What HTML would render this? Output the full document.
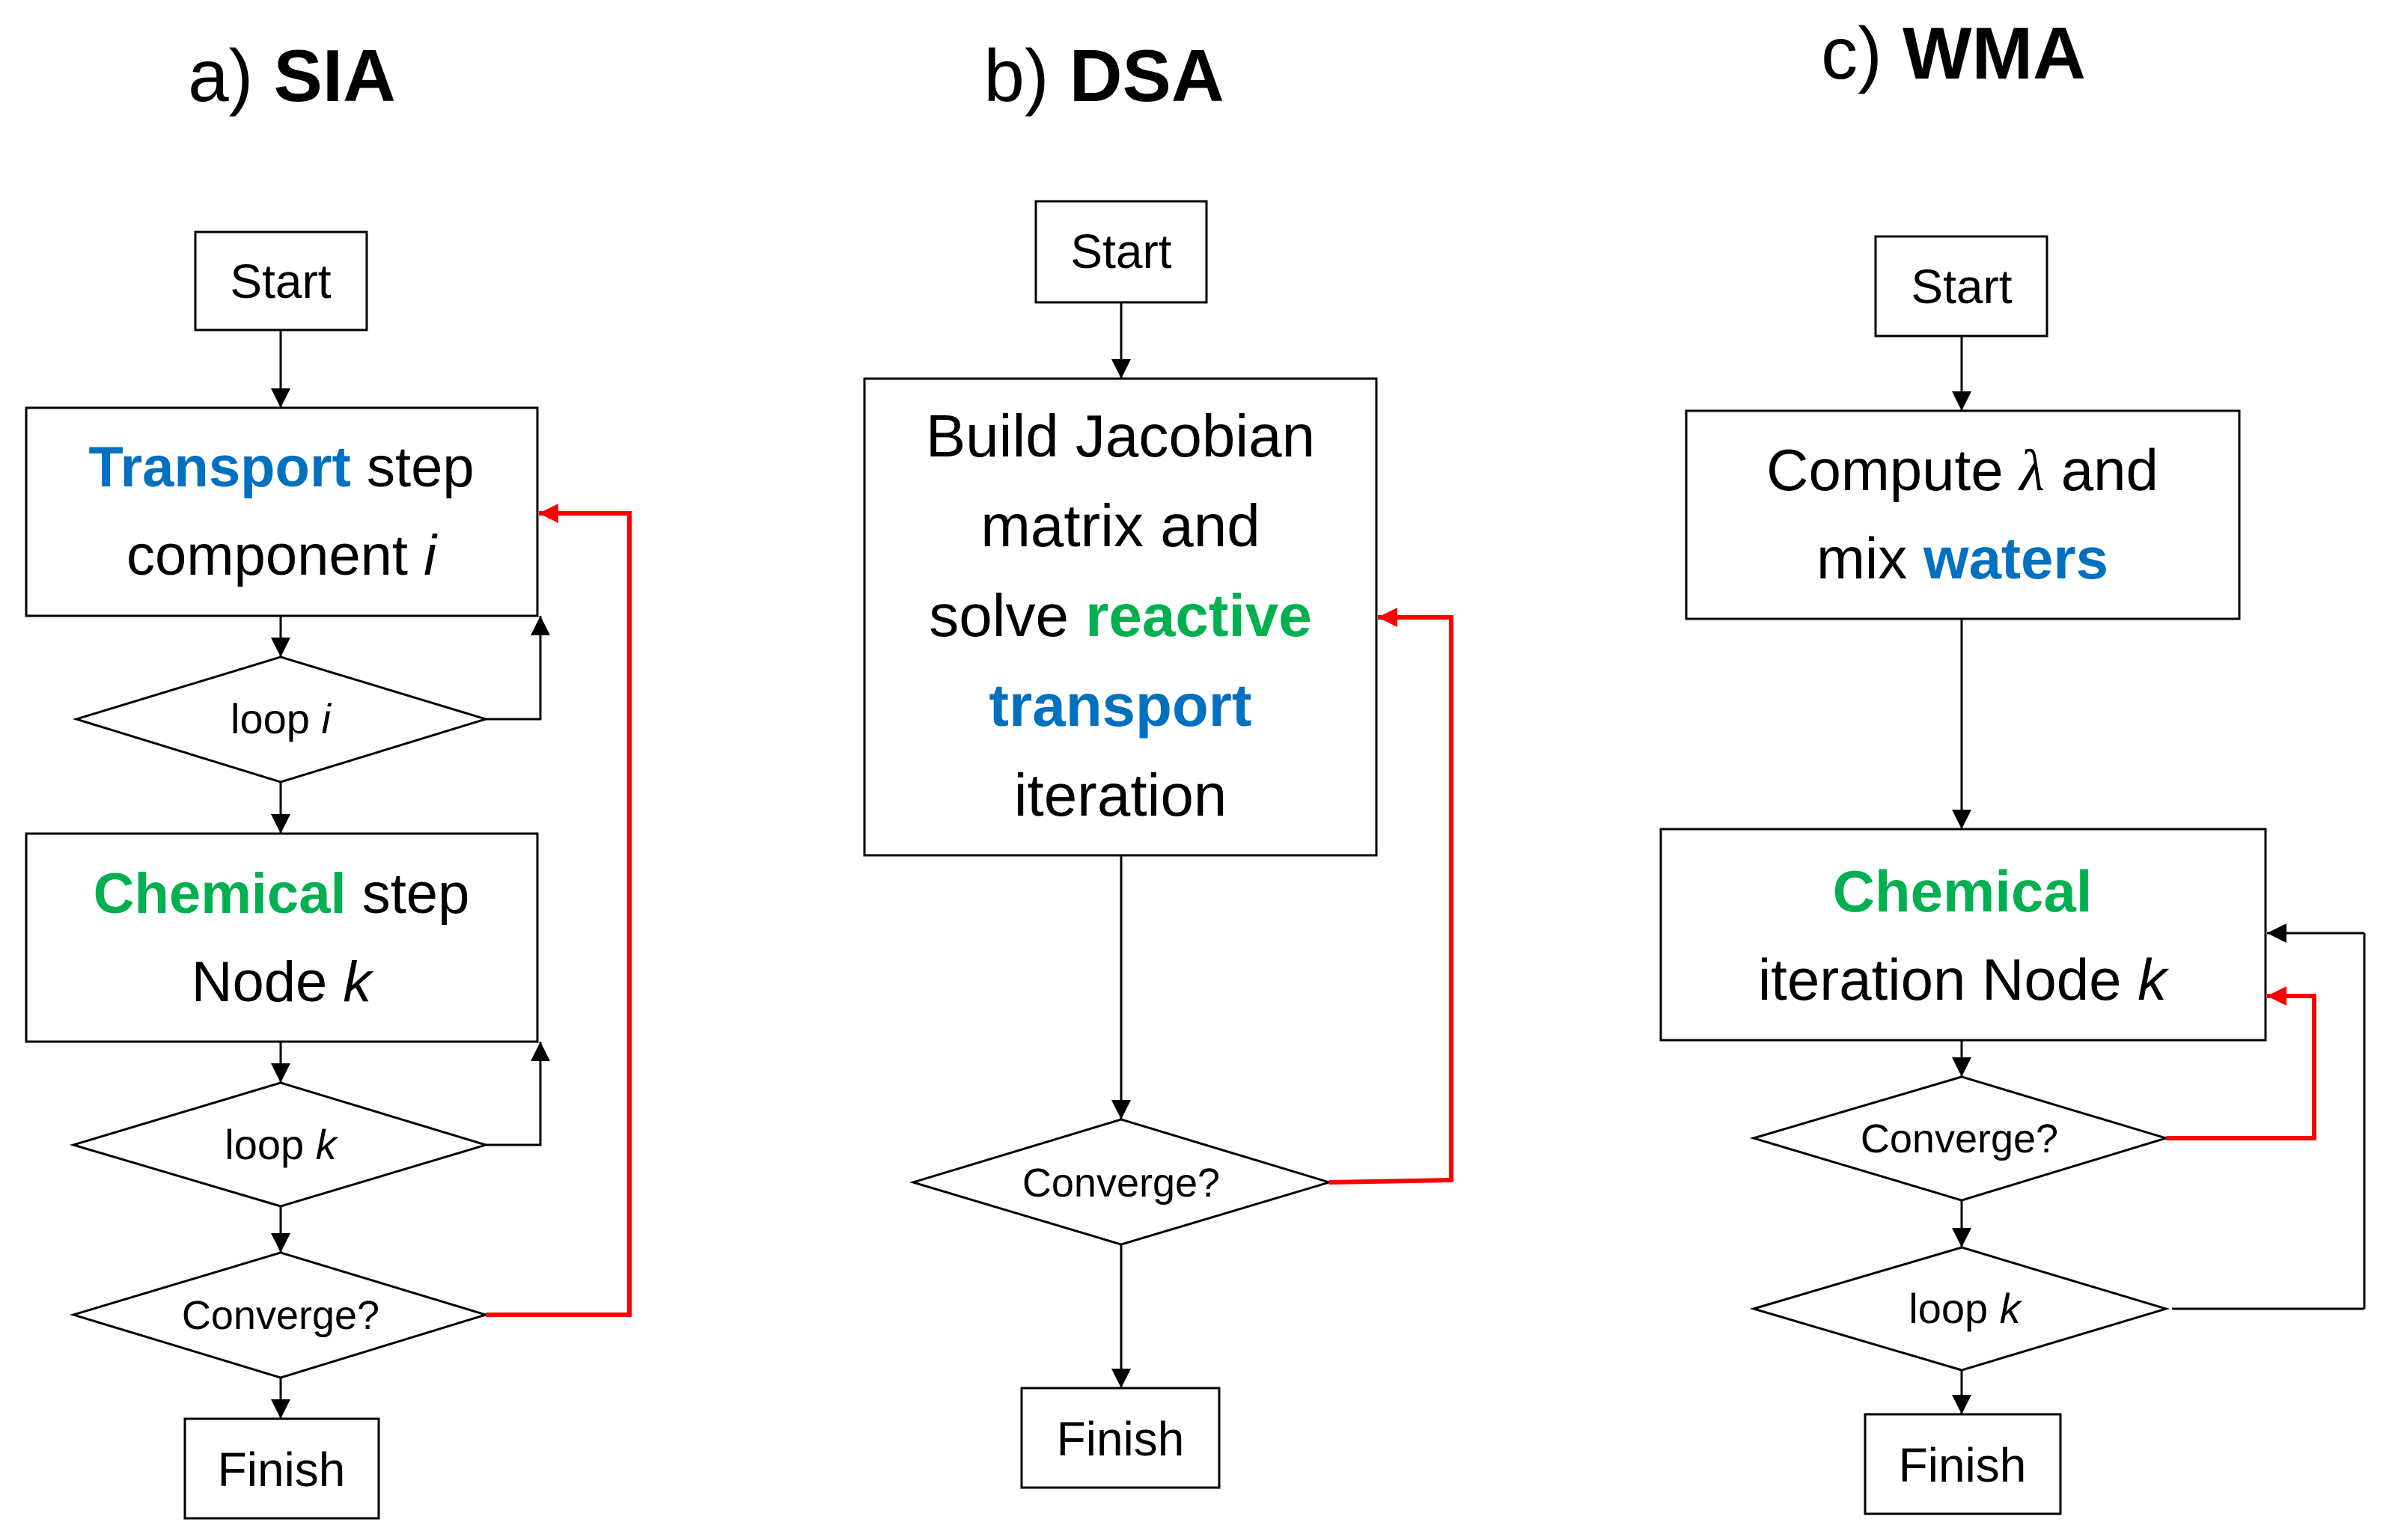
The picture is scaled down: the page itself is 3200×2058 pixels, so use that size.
<!DOCTYPE html>
<html><head><meta charset="utf-8"><style>
html,body{margin:0;padding:0;background:#fff;}
svg{display:block;}
text{font-family:"Liberation Sans",sans-serif;fill:#000;}
.b{font-weight:bold;}
.bl{fill:#0070C0;font-weight:bold;}
.gr{fill:#00B050;font-weight:bold;}
</style></head><body>
<svg width="3200" height="2058" viewBox="0 0 3200 2058" xmlns="http://www.w3.org/2000/svg">
<defs>
<marker id="ak" markerWidth="26" markerHeight="26" refX="10" refY="5" orient="auto" markerUnits="userSpaceOnUse" viewBox="0 0 10 10"><path d="M0,0 L10,5 L0,10 z" fill="#000"/></marker>
<marker id="ar" markerWidth="26" markerHeight="26" refX="10" refY="5" orient="auto" markerUnits="userSpaceOnUse" viewBox="0 0 10 10"><path d="M0,0 L10,5 L0,10 z" fill="#f00"/></marker>
</defs>
<style>
.ka{stroke:#000;stroke-width:3;fill:none;}
.ra{stroke:#f00;stroke-width:6;fill:none;}
.nd{stroke:#000;stroke-width:3;fill:#fff;}
</style>
<!-- titles -->
<text x="390" y="135" font-size="98" text-anchor="middle">a) <tspan class="b">SIA</tspan></text>
<text x="1475" y="135" font-size="98" text-anchor="middle">b) <tspan class="b">DSA</tspan></text>
<text x="2610" y="105" font-size="98" text-anchor="middle">c) <tspan class="b">WMA</tspan></text>

<!-- Panel a -->
<rect class="nd" x="261" y="310" width="229" height="131"/>
<text x="375" y="398" font-size="64" text-anchor="middle">Start</text>
<line class="ka" x1="375" y1="441" x2="375" y2="545" marker-end="url(#ak)"/>
<rect class="nd" x="35" y="545" width="683" height="278"/>
<text x="376" y="650" font-size="76" text-anchor="middle"><tspan class="bl">Transport</tspan> step</text>
<text x="376" y="768" font-size="76" text-anchor="middle">component <tspan font-style="italic">i</tspan></text>
<line class="ka" x1="375" y1="823" x2="375" y2="878" marker-end="url(#ak)"/>
<polygon class="nd" points="102,961 375,878 649,961 375,1045"/>
<text x="375" y="980" font-size="56" text-anchor="middle">loop <tspan font-style="italic">i</tspan></text>
<polyline class="ka" points="649,961 722,961 722,823" marker-end="url(#ak)"/>
<line class="ka" x1="375" y1="1045" x2="375" y2="1114" marker-end="url(#ak)"/>
<rect class="nd" x="35" y="1114" width="683" height="278"/>
<text x="376" y="1220" font-size="76" text-anchor="middle"><tspan class="gr">Chemical</tspan> step</text>
<text x="376" y="1338" font-size="76" text-anchor="middle">Node <tspan font-style="italic">k</tspan></text>
<line class="ka" x1="375" y1="1392" x2="375" y2="1447" marker-end="url(#ak)"/>
<polygon class="nd" points="98,1530 375,1447 649,1530 375,1612"/>
<text x="375" y="1549" font-size="56" text-anchor="middle">loop <tspan font-style="italic">k</tspan></text>
<polyline class="ka" points="649,1530 722,1530 722,1392" marker-end="url(#ak)"/>
<line class="ka" x1="375" y1="1612" x2="375" y2="1674" marker-end="url(#ak)"/>
<polygon class="nd" points="98,1757 375,1674 649,1757 375,1841"/>
<text x="375" y="1776" font-size="54" text-anchor="middle">Converge?</text>
<line class="ka" x1="375" y1="1841" x2="375" y2="1896" marker-end="url(#ak)"/>
<rect class="nd" x="247" y="1896" width="259" height="133"/>
<text x="376" y="1986" font-size="64" text-anchor="middle">Finish</text>
<polyline class="ra" points="649,1757 841,1757 841,686 720,686" marker-end="url(#ar)"/>

<!-- Panel b -->
<rect class="nd" x="1384" y="269" width="228" height="135"/>
<text x="1498" y="358" font-size="64" text-anchor="middle">Start</text>
<line class="ka" x1="1498" y1="404" x2="1498" y2="506" marker-end="url(#ak)"/>
<rect class="nd" x="1155" y="506" width="684" height="637"/>
<text x="1497" y="610" font-size="80" text-anchor="middle">Build Jacobian</text>
<text x="1497" y="730" font-size="80" text-anchor="middle">matrix and</text>
<text x="1497" y="850" font-size="80" text-anchor="middle">solve <tspan class="gr">reactive</tspan></text>
<text x="1497" y="970" font-size="80" text-anchor="middle" class="bl">transport</text>
<text x="1497" y="1090" font-size="80" text-anchor="middle">iteration</text>
<line class="ka" x1="1498" y1="1143" x2="1498" y2="1496" marker-end="url(#ak)"/>
<polygon class="nd" points="1220,1580 1498,1496 1776,1580 1498,1663"/>
<text x="1498" y="1599" font-size="54" text-anchor="middle">Converge?</text>
<line class="ka" x1="1498" y1="1663" x2="1498" y2="1855" marker-end="url(#ak)"/>
<rect class="nd" x="1365" y="1855" width="264" height="133"/>
<text x="1497" y="1945" font-size="64" text-anchor="middle">Finish</text>
<polyline class="ra" points="1776,1580 1939,1577 1939,825 1841,825" marker-end="url(#ar)"/>

<!-- Panel c -->
<rect class="nd" x="2506" y="316" width="229" height="133"/>
<text x="2621" y="405" font-size="64" text-anchor="middle">Start</text>
<line class="ka" x1="2621" y1="449" x2="2621" y2="549" marker-end="url(#ak)"/>
<rect class="nd" x="2253" y="549" width="739" height="278"/>
<text x="2622" y="655" font-size="78" text-anchor="middle">Compute <tspan font-style="italic" font-family="Liberation Serif">λ</tspan> and</text>
<text x="2622" y="773" font-size="78" text-anchor="middle">mix <tspan class="bl">waters</tspan></text>
<line class="ka" x1="2621" y1="827" x2="2621" y2="1108" marker-end="url(#ak)"/>
<rect class="nd" x="2219" y="1108" width="808" height="282"/>
<text x="2622" y="1218" font-size="78" text-anchor="middle" class="gr">Chemical</text>
<text x="2622" y="1336" font-size="78" text-anchor="middle">iteration Node <tspan font-style="italic">k</tspan></text>
<line class="ka" x1="2621" y1="1390" x2="2621" y2="1439" marker-end="url(#ak)"/>
<polygon class="nd" points="2343,1521 2621,1439 2894,1521 2621,1604"/>
<text x="2618" y="1540" font-size="54" text-anchor="middle">Converge?</text>
<line class="ka" x1="2621" y1="1604" x2="2621" y2="1667" marker-end="url(#ak)"/>
<polygon class="nd" points="2343,1749 2621,1667 2894,1749 2621,1831"/>
<text x="2625" y="1768" font-size="56" text-anchor="middle">loop <tspan font-style="italic">k</tspan></text>
<line class="ka" x1="2621" y1="1831" x2="2621" y2="1890" marker-end="url(#ak)"/>
<rect class="nd" x="2492" y="1890" width="261" height="133"/>
<text x="2622" y="1980" font-size="64" text-anchor="middle">Finish</text>
<polyline class="ra" points="2894,1521 3092,1521 3092,1331 3029,1331" marker-end="url(#ar)"/>
<line class="ka" x1="2902" y1="1749" x2="3159" y2="1749"/>
<line class="ka" x1="3159" y1="1749" x2="3159" y2="1247"/>
<line class="ka" x1="3159" y1="1247" x2="3029" y2="1247" marker-end="url(#ak)"/>
</svg>
</body></html>
